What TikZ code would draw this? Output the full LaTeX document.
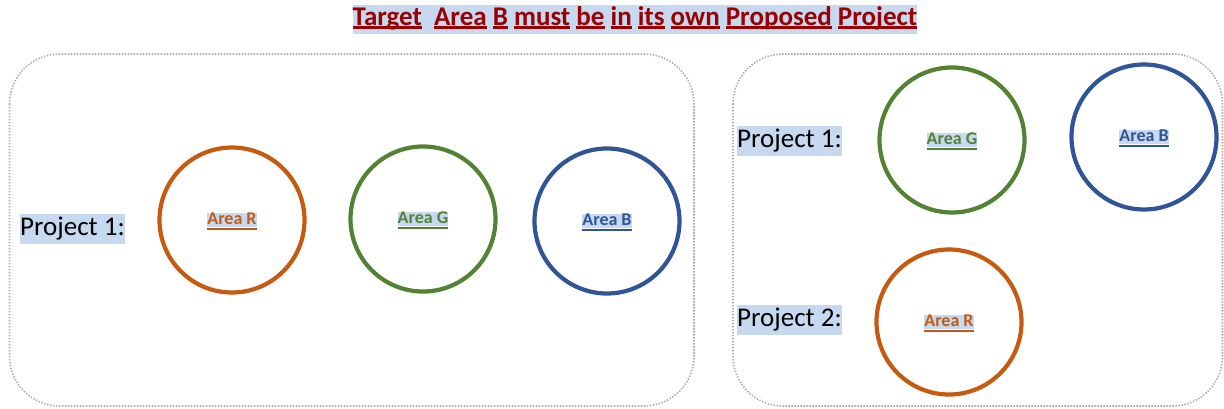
\documentclass[tikz,border=0pt]{standalone}
\usepackage{fontspec}
\setmainfont{Carlito}
\usepackage{tikz}

\definecolor{hilite}{RGB}{198,217,240}
\definecolor{titlered}{RGB}{153,0,0}
\definecolor{areaR}{RGB}{197,90,17}
\definecolor{areaG}{RGB}{84,130,53}
\definecolor{areaB}{RGB}{47,85,151}
\definecolor{boxgray}{RGB}{170,170,170}

% underline one word with a rule in the current colour
\newcommand{\ulshift}{-3pt}
\newcommand{\uword}[2][2pt]{\setbox0\hbox{#2}\rlap{\rule[\ulshift]{\wd0}{#1}}\box0\relax}

\tikzset{
  area/.style={circle,draw=#1,line width=4.2pt,minimum size=145pt,inner sep=0pt},
  tag/.style={fill=hilite,inner sep=0pt,text height=12pt,text depth=2.5pt,
    text=#1,font=\renewcommand{\ulshift}{-4.8pt}\fontsize{18}{20}\selectfont\bfseries},
  project/.style={fill=hilite,inner sep=0pt,text height=21pt,text depth=9pt,
    font=\fontsize{27}{30}\selectfont},
  frame/.style={draw=boxgray,line width=1.6pt,dash pattern=on 1.4pt off 1.6pt,rounded corners=50pt}
}

\begin{document}
\begin{tikzpicture}[x=1pt,y=-1pt]
\useasboundingbox (0,0) rectangle (1224,408);

\node[fill=hilite,inner sep=0pt,text height=21pt,text depth=8pt,text=titlered,
  font=\fontsize{27}{30}\selectfont\bfseries] (title) at (635,19)
  {\uword[2.5pt]{Target}\ \ \uword[2.5pt]{Area} \uword[2.5pt]{B} \uword[2.5pt]{must} \uword[2.5pt]{be} \uword[2.5pt]{in} \uword[2.5pt]{its} \uword[2.5pt]{own} \uword[2.5pt]{Proposed} \uword[2.5pt]{Project}};

% before: one project
\draw[frame] (9.5,54) rectangle (694,406);
\node[project,anchor=west] (p1) at (20,229) {Project 1:};
\node[area=areaR] (r1) at (232,220) {};
\node[area=areaG] (g1) at (423,219) {};
\node[area=areaB] (b1) at (607,221) {};
\node[tag=areaR] (r1t) at (r1) {\uword{Area R}};
\node[tag=areaG] (g1t) at (g1) {\uword{Area G}};
\node[tag=areaB] (b1t) at (b1) {\uword{Area B}};

% after: two projects
\draw[frame] (733,54) rectangle (1222.5,406);
\node[project,anchor=west] (p2a) at (737,141) {Project 1:};
\node[project,anchor=west] (p2b) at (737,320) {Project 2:};
\node[area=areaG] (g2) at (952,140) {};
\node[area=areaB] (b2) at (1144,137) {};
\node[area=areaR] (r2) at (949,322) {};
\node[tag=areaG] (g2t) at (g2) {\uword{Area G}};
\node[tag=areaB] (b2t) at (b2) {\uword{Area B}};
\node[tag=areaR] (r2t) at (r2) {\uword{Area R}};
\end{tikzpicture}
\end{document}
